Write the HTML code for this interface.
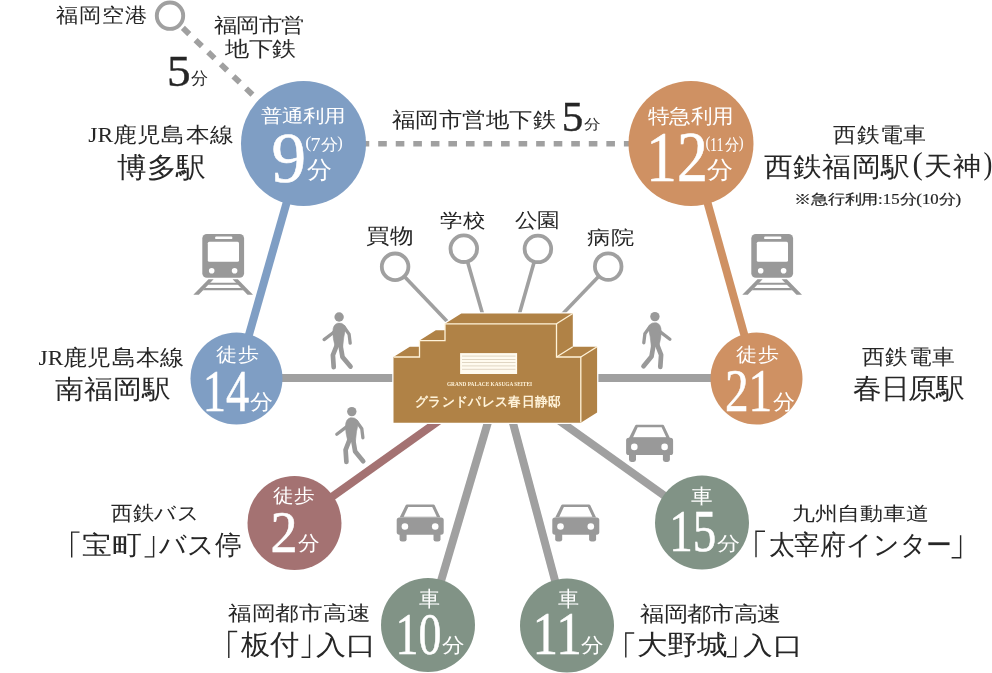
<!DOCTYPE html>
<html lang="ja"><head><meta charset="utf-8"><title>Access map</title>
<style>html,body{margin:0;padding:0;background:#fff;} body{width:992px;height:673px;overflow:hidden;font-family:"Liberation Serif",serif;} svg{display:block;will-change:transform;}</style>
</head><body>
<svg width="992" height="673" viewBox="0 0 992 673">
<line x1="182.9" y1="27.95" x2="303.5" y2="143.5" stroke="#a0a0a0" stroke-width="5.8" stroke-dasharray="8.8 8.7"/>
<line x1="360.65" y1="143.7" x2="630" y2="143.7" stroke="#a0a0a0" stroke-width="5.6" stroke-dasharray="8.6 8.95"/>
<line x1="303.5" y1="143.5" x2="236.5" y2="378.5" stroke="#7f9ec4" stroke-width="8" />
<line x1="691" y1="143.5" x2="756.5" y2="378.5" stroke="#cf9163" stroke-width="8" />
<line x1="236.5" y1="378" x2="756.5" y2="378" stroke="#a0a0a0" stroke-width="8" />
<line x1="501" y1="379.2" x2="702" y2="522.5" stroke="#a0a0a0" stroke-width="8" />
<line x1="501" y1="378" x2="428" y2="625" stroke="#a0a0a0" stroke-width="8" />
<line x1="501" y1="378" x2="567" y2="625.5" stroke="#a0a0a0" stroke-width="8" />
<line x1="501" y1="376.5" x2="294.5" y2="523.5" stroke="#a47272" stroke-width="8" />
<line x1="501" y1="378" x2="395.1" y2="266.8" stroke="#a0a0a0" stroke-width="3.6" />
<line x1="501" y1="378" x2="463.8" y2="248.7" stroke="#a0a0a0" stroke-width="3.6" />
<line x1="501" y1="378" x2="537.9" y2="248.9" stroke="#a0a0a0" stroke-width="3.6" />
<line x1="501" y1="378" x2="608.2" y2="266.6" stroke="#a0a0a0" stroke-width="3.6" />
<circle cx="395.1" cy="266.8" r="13.3" fill="#ffffff" stroke="#a0a0a0" stroke-width="3.8"/>
<circle cx="463.8" cy="248.7" r="13.3" fill="#ffffff" stroke="#a0a0a0" stroke-width="3.8"/>
<circle cx="537.9" cy="248.9" r="13.3" fill="#ffffff" stroke="#a0a0a0" stroke-width="3.8"/>
<circle cx="608.2" cy="266.6" r="13.3" fill="#ffffff" stroke="#a0a0a0" stroke-width="3.8"/>
<circle cx="170" cy="15.7" r="13.2" fill="#ffffff" stroke="#a0a0a0" stroke-width="3.9"/>
<circle cx="303.5" cy="143.5" r="62.5" fill="#7f9ec4"/>
<circle cx="691" cy="143.5" r="62.5" fill="#cf9163"/>
<circle cx="236.5" cy="378.5" r="46" fill="#7f9ec4"/>
<circle cx="756.5" cy="378.5" r="46" fill="#cf9163"/>
<circle cx="294.5" cy="523" r="47" fill="#a47272"/>
<circle cx="702" cy="522.5" r="47" fill="#819386"/>
<circle cx="428" cy="625" r="47" fill="#819386"/>
<circle cx="567" cy="625.5" r="47" fill="#819386"/>
<polygon points="393.50,422.80 393.50,357.00 409.80,346.70 419.50,346.70 419.50,340.60 435.80,330.30 445.00,330.30 445.00,323.80 461.30,313.50 572.80,313.50 572.80,346.70 597.10,346.70 597.10,412.50 580.80,422.80" fill="#b08246" stroke="#ffffff" stroke-width="2.6" stroke-linejoin="miter" paint-order="stroke"/>
<polyline points="393.80,357.00 419.50,357.00 419.50,340.60 445.00,340.60 445.00,323.80 556.50,323.80 556.50,357.00 580.80,357.00 580.80,422.50" fill="none" stroke="#fff3d9" stroke-width="1.3" stroke-linejoin="miter"/>
<polyline points="556.50,323.80 572.80,313.50" fill="none" stroke="#fff3d9" stroke-width="1.3" stroke-linejoin="miter"/>
<polyline points="556.50,357.00 572.80,346.70" fill="none" stroke="#fff3d9" stroke-width="1.3" stroke-linejoin="miter"/>
<polyline points="580.80,357.00 597.10,346.70" fill="none" stroke="#fff3d9" stroke-width="1.3" stroke-linejoin="miter"/>
<rect x="460.1" y="353.1" width="57" height="20.9" fill="#fffbf0"/>
<line x1="462" y1="356.1" x2="515.5" y2="356.1" stroke="#d6c9b4" stroke-width="0.75"/>
<line x1="462" y1="359.5" x2="515.5" y2="359.5" stroke="#d6c9b4" stroke-width="0.75"/>
<line x1="462" y1="362.5" x2="515.5" y2="362.5" stroke="#d6c9b4" stroke-width="0.75"/>
<line x1="462" y1="365.9" x2="515.5" y2="365.9" stroke="#d6c9b4" stroke-width="0.75"/>
<line x1="462" y1="369.3" x2="515.5" y2="369.3" stroke="#d6c9b4" stroke-width="0.75"/>
<g transform="translate(202.3,0)" fill="#999">
<rect x="0" y="233.9" width="41.8" height="43.8" rx="4.5"/>
<rect x="12.8" y="236.5" width="17.3" height="2.6" rx="1.2" fill="#fff"/>
<rect x="5.5" y="241.7" width="31.2" height="20.1" rx="1.5" fill="#fff"/>
<circle cx="9.4" cy="270.7" r="2.8" fill="#fff"/>
<circle cx="32.3" cy="270.7" r="2.8" fill="#fff"/>
<polygon points="6.2,279.2 11.3,279.2 -3.5,294.7 -9,294.7"/>
<polygon points="30.3,279.2 35.5,279.2 50.7,294.7 45.2,294.7"/>
<polygon points="7.5,282.7 34.3,282.7 36.2,284.7 5.6,284.7"/>
<polygon points="2.6,287.9 39.1,287.9 41.3,290.2 0.4,290.2"/>
</g>
<g transform="translate(751.3,0)" fill="#999">
<rect x="0" y="233.9" width="41.8" height="43.8" rx="4.5"/>
<rect x="12.8" y="236.5" width="17.3" height="2.6" rx="1.2" fill="#fff"/>
<rect x="5.5" y="241.7" width="31.2" height="20.1" rx="1.5" fill="#fff"/>
<circle cx="9.4" cy="270.7" r="2.8" fill="#fff"/>
<circle cx="32.3" cy="270.7" r="2.8" fill="#fff"/>
<polygon points="6.2,279.2 11.3,279.2 -3.5,294.7 -9,294.7"/>
<polygon points="30.3,279.2 35.5,279.2 50.7,294.7 45.2,294.7"/>
<polygon points="7.5,282.7 34.3,282.7 36.2,284.7 5.6,284.7"/>
<polygon points="2.6,287.9 39.1,287.9 41.3,290.2 0.4,290.2"/>
</g>
<g transform="translate(339.1,317)" fill="#999" stroke="#999" stroke-linecap="round" stroke-linejoin="round">
<circle cx="0" cy="0" r="4.7" stroke="none"/>
<path d="M-6.3,14.5 Q-6.2,7.5 -1.5,6.2 Q3,5.6 5.2,8.2 L6.6,10.8 Q4.3,20 3.6,29.8 L-3.9,29.8 Q-6.4,21 -6.3,14.5 Z" stroke-width="0.6"/>
<path d="M-6,15.8 L-15,22.6" fill="none" stroke-width="3.3"/>
<path d="M4.8,9.8 L10,17.2 L11.1,26.2" fill="none" stroke-width="3.3"/>
<path d="M-2.2,28 L-6.2,38.2 L-5.4,50.2" fill="none" stroke-width="4.7"/>
<path d="M1.5,29 L3.4,40 L11.4,49.6" fill="none" stroke-width="4.7"/>
</g>
<g transform="translate(654.9,316.6) scale(-1,1)" fill="#999" stroke="#999" stroke-linecap="round" stroke-linejoin="round">
<circle cx="0" cy="0" r="4.7" stroke="none"/>
<path d="M-6.3,14.5 Q-6.2,7.5 -1.5,6.2 Q3,5.6 5.2,8.2 L6.6,10.8 Q4.3,20 3.6,29.8 L-3.9,29.8 Q-6.4,21 -6.3,14.5 Z" stroke-width="0.6"/>
<path d="M-6,15.8 L-15,22.6" fill="none" stroke-width="3.3"/>
<path d="M4.8,9.8 L10,17.2 L11.1,26.2" fill="none" stroke-width="3.3"/>
<path d="M-2.2,28 L-6.2,38.2 L-5.4,50.2" fill="none" stroke-width="4.7"/>
<path d="M1.5,29 L3.4,40 L11.4,49.6" fill="none" stroke-width="4.7"/>
</g>
<g transform="translate(351.8,411.6)" fill="#999" stroke="#999" stroke-linecap="round" stroke-linejoin="round">
<circle cx="0" cy="0" r="4.7" stroke="none"/>
<path d="M-6.3,14.5 Q-6.2,7.5 -1.5,6.2 Q3,5.6 5.2,8.2 L6.6,10.8 Q4.3,20 3.6,29.8 L-3.9,29.8 Q-6.4,21 -6.3,14.5 Z" stroke-width="0.6"/>
<path d="M-6,15.8 L-15,22.6" fill="none" stroke-width="3.3"/>
<path d="M4.8,9.8 L10,17.2 L11.1,26.2" fill="none" stroke-width="3.3"/>
<path d="M-2.2,28 L-6.2,38.2 L-5.4,50.2" fill="none" stroke-width="4.7"/>
<path d="M1.5,29 L3.4,40 L11.4,49.6" fill="none" stroke-width="4.7"/>
</g>
<g transform="translate(626.1,424.8)" fill="#999">
<path d="M10.3,0 L36.7,0 Q37.6,0 38,0.9 L43.8,13.1 L2.9,13.1 L9,0.9 Q9.4,0 10.3,0 Z M11.6,2.5 L7,12.4 L40.1,12.4 L35.5,2.5 Z" fill-rule="evenodd"/>
<rect x="0" y="13" width="47" height="17.3" rx="2.6"/>
<circle cx="8.2" cy="22.1" r="3.3" fill="#fff"/>
<circle cx="38.5" cy="22.1" r="3.3" fill="#fff"/>
<rect x="2.9" y="27" width="7" height="10.2" rx="2.4"/>
<rect x="36.8" y="27" width="7" height="10.2" rx="2.4"/>
</g>
<g transform="translate(396.7,504.4)" fill="#999">
<path d="M10.3,0 L36.7,0 Q37.6,0 38,0.9 L43.8,13.1 L2.9,13.1 L9,0.9 Q9.4,0 10.3,0 Z M11.6,2.5 L7,12.4 L40.1,12.4 L35.5,2.5 Z" fill-rule="evenodd"/>
<rect x="0" y="13" width="47" height="17.3" rx="2.6"/>
<circle cx="8.2" cy="22.1" r="3.3" fill="#fff"/>
<circle cx="38.5" cy="22.1" r="3.3" fill="#fff"/>
<rect x="2.9" y="27" width="7" height="10.2" rx="2.4"/>
<rect x="36.8" y="27" width="7" height="10.2" rx="2.4"/>
</g>
<g transform="translate(552.3,504.4)" fill="#999">
<path d="M10.3,0 L36.7,0 Q37.6,0 38,0.9 L43.8,13.1 L2.9,13.1 L9,0.9 Q9.4,0 10.3,0 Z M11.6,2.5 L7,12.4 L40.1,12.4 L35.5,2.5 Z" fill-rule="evenodd"/>
<rect x="0" y="13" width="47" height="17.3" rx="2.6"/>
<circle cx="8.2" cy="22.1" r="3.3" fill="#fff"/>
<circle cx="38.5" cy="22.1" r="3.3" fill="#fff"/>
<rect x="2.9" y="27" width="7" height="10.2" rx="2.4"/>
<rect x="36.8" y="27" width="7" height="10.2" rx="2.4"/>
</g>
<text x="0.00 23.00 46.00 69.00" transform="matrix(0.9965,0,0,0.9000,56.48,22.23)" font-family="'Liberation Serif', serif" font-weight="normal" font-size="22.6" fill="#262626">福岡空港</text>
<text x="0.00 22.00 44.00 66.00" transform="matrix(1.0275,0,0,0.8850,213.61,32.39)" font-family="'Liberation Serif', serif" font-weight="normal" font-size="22.3" fill="#262626">福岡市営</text>
<text x="0.00 22.00 44.00" transform="matrix(1.0687,0,0,0.9272,225.00,56.45)" font-family="'Liberation Serif', serif" font-weight="normal" font-size="22.3" fill="#262626">地下鉄</text>
<text x="0.00" transform="matrix(1.0491,0,0,0.9912,166.91,85.84)" font-family="'Liberation Serif'" font-weight="normal" font-size="45" fill="#262626" stroke="#262626" stroke-width="0.4">5</text>
<text x="0.00" transform="matrix(0.9918,0,0,0.9875,191.09,84.11)" font-family="'Liberation Serif', serif" font-weight="normal" font-size="17" fill="#262626">分</text>
<text x="0.00 9.14 24.81 48.81 72.81 96.81 120.81" transform="matrix(1.0060,0,0,0.8939,88.23,142.38)" font-family="'Liberation Serif', serif" font-weight="normal" font-size="23.5" fill="#262626">JR鹿児島本線</text>
<text x="0.00 29.00 58.00" transform="matrix(1.0246,0,0,0.9669,116.95,176.67)" font-family="'Liberation Serif', serif" font-weight="normal" font-size="29" fill="#262626">博多駅</text>
<text x="0.00 23.00 46.00 69.00 92.00 115.00 138.00" transform="matrix(1.0226,0,0,0.9208,391.73,127.18)" font-family="'Liberation Serif', serif" font-weight="normal" font-size="23.3" fill="#262626">福岡市営地下鉄</text>
<text x="0.00" transform="matrix(0.9816,0,0,0.9802,561.80,130.71)" font-family="'Liberation Serif'" font-weight="normal" font-size="44" fill="#262626" stroke="#262626" stroke-width="0.4">5</text>
<text x="0.00" transform="matrix(1.0198,0,0,0.8516,584.07,129.28)" font-family="'Liberation Serif', serif" font-weight="normal" font-size="16.5" fill="#262626">分</text>
<text x="0.00 23.00 46.00 69.00" transform="matrix(1.0166,0,0,0.9288,833.36,141.85)" font-family="'Liberation Serif', serif" font-weight="normal" font-size="23" fill="#262626">西鉄電車</text>
<text x="0.00 29.00 58.00 87.00 116.00" transform="matrix(1.0038,0,0,0.9442,764.23,175.76)" font-family="'Liberation Serif', serif" font-weight="normal" font-size="28.8" fill="#262626">西鉄福岡駅</text>
<text x="0.00" transform="matrix(0.9622,0,0,0.9809,912.49,173.78)" font-family="'Liberation Serif'" font-weight="normal" font-size="32" fill="#262626">(</text>
<text x="0.00 29.00" transform="matrix(0.9934,0,0,0.9190,924.22,175.49)" font-family="'Liberation Serif', serif" font-weight="normal" font-size="28.8" fill="#262626">天神</text>
<text x="0.00" transform="matrix(0.8330,0,0,0.9840,983.43,173.76)" font-family="'Liberation Serif'" font-weight="normal" font-size="32" fill="#262626">)</text>
<text x="0.00 15.00 30.00 45.00 60.00 75.00 79.16 86.66 94.16 109.16 114.16 121.66 129.16 144.16" transform="matrix(1.1176,0,0,0.9145,794.30,203.79)" font-family="'Liberation Serif', serif" font-weight="normal" font-size="15" fill="#222" stroke="#222" stroke-width="0.2">※急行利用:15分(10分)</text>
<text x="0.00 23.00" transform="matrix(1.0575,0,0,0.9401,365.87,243.45)" font-family="'Liberation Serif', serif" font-weight="normal" font-size="22.6" fill="#262626">買物</text>
<text x="0.00 23.00" transform="matrix(0.9876,0,0,0.8368,439.86,227.01)" font-family="'Liberation Serif', serif" font-weight="normal" font-size="22.6" fill="#262626">学校</text>
<text x="0.00 23.00" transform="matrix(0.9773,0,0,0.8667,514.89,226.80)" font-family="'Liberation Serif', serif" font-weight="normal" font-size="22.6" fill="#262626">公園</text>
<text x="0.00 23.00" transform="matrix(1.0308,0,0,0.8400,587.48,243.88)" font-family="'Liberation Serif', serif" font-weight="normal" font-size="22.6" fill="#262626">病院</text>
<text x="0.00 9.14 24.81 48.81 72.81 96.81 120.81" transform="matrix(1.0036,0,0,0.9202,38.50,365.31)" font-family="'Liberation Serif', serif" font-weight="normal" font-size="23.5" fill="#262626">JR鹿児島本線</text>
<text x="0.00 29.00 58.00 87.00" transform="matrix(1.0047,0,0,0.9106,54.76,398.16)" font-family="'Liberation Serif', serif" font-weight="normal" font-size="28.6" fill="#262626">南福岡駅</text>
<text x="0.00 23.00 46.00 69.00" transform="matrix(1.0085,0,0,0.9319,862.30,363.90)" font-family="'Liberation Serif', serif" font-weight="normal" font-size="23" fill="#262626">西鉄電車</text>
<text x="0.00 27.00 54.00 81.00" transform="matrix(1.0267,0,0,1.0040,853.03,398.17)" font-family="'Liberation Serif', serif" font-weight="normal" font-size="27.4" fill="#262626">春日原駅</text>
<text x="0.00 22.00 44.00 67.00" transform="matrix(0.9861,0,0,0.9173,111.09,519.68)" font-family="'Liberation Serif', serif" font-weight="normal" font-size="22" fill="#262626">西鉄バス</text>
<text x="0.00 28.00" transform="matrix(1.0655,0,0,0.9309,82.27,554.31)" font-family="'Liberation Serif', serif" font-weight="normal" font-size="28" fill="#262626">宝町</text>
<text x="0.00 29.00 58.00" transform="matrix(0.9562,0,0,0.9626,159.27,554.19)" font-family="'Liberation Serif', serif" font-weight="normal" font-size="28" fill="#262626">バス停</text>
<text x="0.00 22.00 44.00 66.00 88.00 110.00" transform="matrix(1.0359,0,0,0.8559,791.90,519.77)" font-family="'Liberation Serif', serif" font-weight="normal" font-size="22.4" fill="#262626">九州自動車道</text>
<text x="0.00 27.00 54.00 81.00 109.00 137.00 165.00" transform="matrix(0.9555,0,0,0.9976,768.61,554.27)" font-family="'Liberation Serif', serif" font-weight="normal" font-size="27" fill="#262626">太宰府インター</text>
<text x="0.00 23.00 46.00 69.00 92.00 115.00" transform="matrix(1.0296,0,0,0.8748,228.14,619.96)" font-family="'Liberation Serif', serif" font-weight="normal" font-size="23.4" fill="#262626">福岡都市高速</text>
<text x="0.00 28.00" transform="matrix(1.0497,0,0,1.0064,240.87,654.23)" font-family="'Liberation Serif', serif" font-weight="normal" font-size="28" fill="#262626">板付</text>
<text x="0.00 28.00" transform="matrix(1.0891,0,0,0.9455,315.85,653.98)" font-family="'Liberation Serif', serif" font-weight="normal" font-size="28" fill="#262626">入口</text>
<text x="0.00 23.00 46.00 69.00 92.00 115.00" transform="matrix(1.0199,0,0,0.8900,640.13,620.64)" font-family="'Liberation Serif', serif" font-weight="normal" font-size="23.2" fill="#262626">福岡都市高速</text>
<text x="0.00 28.00 56.00" transform="matrix(1.0740,0,0,0.9485,636.79,654.35)" font-family="'Liberation Serif', serif" font-weight="normal" font-size="28" fill="#262626">大野城</text>
<text x="0.00 28.00" transform="matrix(1.0693,0,0,0.8971,742.87,653.85)" font-family="'Liberation Serif', serif" font-weight="normal" font-size="28" fill="#262626">入口</text>
<text x="0.00 20.00 40.00 60.00" transform="matrix(1.0444,0,0,0.8720,260.87,122.11)" font-family="'Liberation Serif', serif" font-weight="normal" font-size="20.3" fill="#ffffff">普通利用</text>
<text x="0.00" transform="matrix(0.9345,0,0,0.9717,271.56,181.61)" font-family="'Liberation Serif'" font-weight="normal" font-size="74" fill="#ffffff" stroke="#ffffff" stroke-width="0.6">9</text>
<text x="0.00" transform="matrix(1.0263,0,0,0.9807,305.23,148.25)" font-family="'Liberation Serif'" font-weight="normal" font-size="18" fill="#ffffff">(</text>
<text x="0.00" transform="matrix(1.1152,0,0,1.0555,310.46,150.80)" font-family="'Liberation Serif'" font-weight="normal" font-size="18" fill="#ffffff">7</text>
<text x="0.00" transform="matrix(1.0624,0,0,0.9918,320.67,149.70)" font-family="'Liberation Serif', serif" font-weight="normal" font-size="16" fill="#ffffff">分</text>
<text x="0.00" transform="matrix(0.9195,0,0,0.9807,337.25,148.26)" font-family="'Liberation Serif'" font-weight="normal" font-size="18" fill="#ffffff">)</text>
<text x="0.00" transform="matrix(1.0376,0,0,1.0019,306.67,178.35)" font-family="'Liberation Serif', serif" font-weight="normal" font-size="24" fill="#ffffff">分</text>
<text x="0.00 21.00 42.00 63.00" transform="matrix(1.0225,0,0,0.9468,647.93,122.96)" font-family="'Liberation Serif', serif" font-weight="normal" font-size="20.8" fill="#ffffff">特急利用</text>
<text x="0.00 36.00" transform="matrix(0.8584,0,0,0.9900,646.10,180.94)" font-family="'Liberation Serif'" font-weight="normal" font-size="72" fill="#ffffff" stroke="#ffffff" stroke-width="0.6">12</text>
<text x="0.00" transform="matrix(0.8163,0,0,0.9723,705.59,148.15)" font-family="'Liberation Serif'" font-weight="normal" font-size="18" fill="#ffffff">(</text>
<text x="0.00 8.33" transform="matrix(0.7866,0,0,1.0614,710.02,150.80)" font-family="'Liberation Serif'" font-weight="normal" font-size="18" fill="#ffffff">11</text>
<text x="0.00" transform="matrix(0.9163,0,0,1.0269,724.90,149.83)" font-family="'Liberation Serif', serif" font-weight="normal" font-size="16" fill="#ffffff">分</text>
<text x="0.00" transform="matrix(0.8071,0,0,0.9728,738.65,148.16)" font-family="'Liberation Serif'" font-weight="normal" font-size="18" fill="#ffffff">)</text>
<text x="0.00" transform="matrix(1.0843,0,0,1.0019,706.66,178.35)" font-family="'Liberation Serif', serif" font-weight="normal" font-size="24" fill="#ffffff">分</text>
<text x="0.00 21.00" transform="matrix(1.0207,0,0,0.9235,216.14,360.80)" font-family="'Liberation Serif', serif" font-weight="normal" font-size="20.5" fill="#ffffff">徒歩</text>
<text x="0.00 30.50" transform="matrix(0.7611,0,0,0.9791,202.80,410.61)" font-family="'Liberation Serif'" font-weight="normal" font-size="61" fill="#ffffff" stroke="#ffffff" stroke-width="0.6">14</text>
<text x="0.00" transform="matrix(1.0937,0,0,0.9993,249.99,409.12)" font-family="'Liberation Serif', serif" font-weight="normal" font-size="21" fill="#ffffff">分</text>
<text x="0.00 21.00" transform="matrix(1.0207,0,0,0.9235,736.14,360.80)" font-family="'Liberation Serif', serif" font-weight="normal" font-size="20.5" fill="#ffffff">徒歩</text>
<text x="0.00 30.50" transform="matrix(0.7746,0,0,0.9961,725.00,410.61)" font-family="'Liberation Serif'" font-weight="normal" font-size="61" fill="#ffffff" stroke="#ffffff" stroke-width="0.6">21</text>
<text x="0.00" transform="matrix(1.0466,0,0,0.9993,772.81,409.12)" font-family="'Liberation Serif', serif" font-weight="normal" font-size="21" fill="#ffffff">分</text>
<text x="0.00 21.00" transform="matrix(1.0043,0,0,0.9269,272.61,501.85)" font-family="'Liberation Serif', serif" font-weight="normal" font-size="20.5" fill="#ffffff">徒歩</text>
<text x="0.00" transform="matrix(0.9020,0,0,0.9681,270.61,551.67)" font-family="'Liberation Serif'" font-weight="normal" font-size="60" fill="#ffffff" stroke="#ffffff" stroke-width="0.6">2</text>
<text x="0.00" transform="matrix(1.0297,0,0,0.9519,298.21,550.32)" font-family="'Liberation Serif', serif" font-weight="normal" font-size="21" fill="#ffffff">分</text>
<text x="0.00" transform="matrix(1.0600,0,0,0.9802,691.20,503.22)" font-family="'Liberation Serif', serif" font-weight="normal" font-size="20.5" fill="#ffffff">車</text>
<text x="0.00 30.50" transform="matrix(0.7715,0,0,0.9612,669.28,550.82)" font-family="'Liberation Serif'" font-weight="normal" font-size="61" fill="#ffffff" stroke="#ffffff" stroke-width="0.6">15</text>
<text x="0.00" transform="matrix(1.0769,0,0,0.8886,717.13,550.03)" font-family="'Liberation Serif', serif" font-weight="normal" font-size="21" fill="#ffffff">分</text>
<text x="0.00" transform="matrix(1.0121,0,0,1.0114,418.75,605.81)" font-family="'Liberation Serif', serif" font-weight="normal" font-size="20.5" fill="#ffffff">車</text>
<text x="0.00 30.50" transform="matrix(0.7503,0,0,0.9731,395.59,653.54)" font-family="'Liberation Serif'" font-weight="normal" font-size="61" fill="#ffffff" stroke="#ffffff" stroke-width="0.6">10</text>
<text x="0.00" transform="matrix(1.0600,0,0,0.9418,442.13,651.67)" font-family="'Liberation Serif', serif" font-weight="normal" font-size="21" fill="#ffffff">分</text>
<text x="0.00" transform="matrix(1.0154,0,0,1.0114,557.68,605.81)" font-family="'Liberation Serif', serif" font-weight="normal" font-size="20.5" fill="#ffffff">車</text>
<text x="0.00 28.23" transform="matrix(0.8377,0,0,0.9973,532.53,653.94)" font-family="'Liberation Serif'" font-weight="normal" font-size="61" fill="#ffffff" stroke="#ffffff" stroke-width="0.6">11</text>
<text x="0.00" transform="matrix(1.0633,0,0,0.9418,581.07,651.67)" font-family="'Liberation Serif', serif" font-weight="normal" font-size="21" fill="#ffffff">分</text>
<text x="0.00 5.44 10.50 15.55 20.61 25.66 27.41 31.17 36.22 40.89 45.94 51.00 55.67 57.42 62.86 67.92 71.81 76.86 82.31 86.98 88.73 92.62 97.30 100.02 104.69 109.36" transform="matrix(0.7588,0,0,0.8722,446.94,385.87)" font-family="'Liberation Serif'" font-weight="bold" font-size="7" fill="#fff3d9">GRAND PALACE KASUGA SEITEI</text>
<text x="0.00 15.00 30.00 45.00 60.00 75.00 90.00 105.00 120.00 135.00 150.00" transform="matrix(0.8892,0,0,0.9060,415.04,405.83)" font-family="'Liberation Serif', serif" font-weight="bold" font-size="14.5" fill="#fff3d9">グランドパレス春日静邸</text>
<path d="M79.5,532.1 L71.7,532.1 L71.7,557.6" fill="none" stroke="#262626" stroke-width="1.4"/>
<path d="M153.6,535.9 L153.6,556.9 L144.6,556.9" fill="none" stroke="#262626" stroke-width="1.4"/>
<path d="M765,531.3 L756,531.3 L756,557.2" fill="none" stroke="#262626" stroke-width="1.4"/>
<path d="M960.6,535.2 L960.6,557.7 L951.6,557.7" fill="none" stroke="#262626" stroke-width="1.4"/>
<path d="M237.20000000000002,631.5 L228.8,631.5 L228.8,658" fill="none" stroke="#262626" stroke-width="1.4"/>
<path d="M309.5,634.5 L309.5,657.3 L301.5,657.3" fill="none" stroke="#262626" stroke-width="1.4"/>
<path d="M634.1999999999999,633 L625.8,633 L625.8,657.5" fill="none" stroke="#262626" stroke-width="1.4"/>
<path d="M735.7,636.4 L735.7,656.8 L726.9000000000001,656.8" fill="none" stroke="#262626" stroke-width="1.4"/>
</svg>
</body></html>
